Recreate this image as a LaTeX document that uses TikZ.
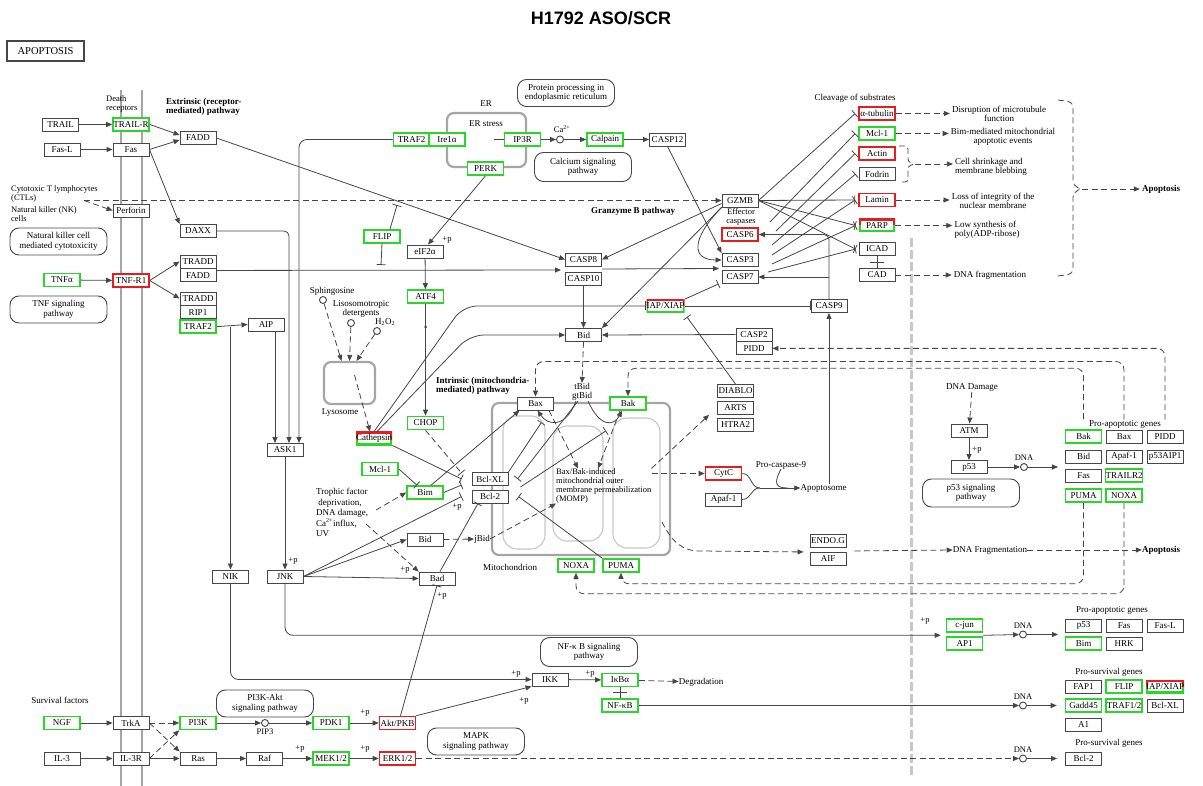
\documentclass[tikz,border=0pt]{standalone}
\usepackage{fontspec}
\setmainfont{Liberation Serif}
\newfontfamily\titlefont{Liberation Sans}
\usetikzlibrary{arrows.meta, positioning, calc}
\definecolor{kgreen}{RGB}{40,215,40}
\definecolor{kred}{RGB}{228,30,30}
\definecolor{kline}{RGB}{70,70,70}
\definecolor{kgray}{RGB}{165,165,165}
\definecolor{klight}{RGB}{200,200,200}
\begin{document}
\begin{tikzpicture}[x=1pt, y=-1pt,
  kbox/.style={draw=kline, fill=white, line width=0.9pt, minimum width=36pt, minimum height=13pt, inner sep=0pt, font=\fontsize{9}{9}\selectfont},
  gkbox/.style={kbox, draw=kgreen, line width=1.6pt},
  rkbox/.style={kbox, draw=kred, line width=1.6pt},
  rgkbox/.style={kbox, draw=none, path picture={
      \draw[kred, line width=3.2pt] (path picture bounding box.west) |- (path picture bounding box.north east) -- (path picture bounding box.east);
      \draw[kgreen, line width=3.2pt] (path picture bounding box.west) |- (path picture bounding box.south east) -- (path picture bounding box.east);}},
  pathbox/.style={draw=kline, line width=0.9pt, rounded corners=9pt, minimum width=97pt, minimum height=27pt, align=center, inner sep=1pt, font=\fontsize{9}{9.5}\selectfont},
  orgbox/.style={draw=kgray, line width=2.2pt, rounded corners=7pt},
  crista/.style={draw=klight, line width=1.1pt},
  memb/.style={draw=kgray, line width=2.5pt},
  lbl/.style={font=\fontsize{9}{9.5}\selectfont, align=center, inner sep=0pt},
  slbl/.style={font=\fontsize{8.5}{9}\selectfont, align=center, inner sep=0pt},
  blbl/.style={font=\fontsize{9}{9.5}\selectfont\bfseries, align=left, inner sep=0pt},
  circ/.style={circle, draw=kline, fill=white, line width=0.9pt, minimum size=7pt, inner sep=0pt},
  ln/.style={draw=kline, line width=0.8pt},
  ar/.style={ln, -{Triangle[length=6pt,width=5pt]}},
  inh/.style={ln, -{Bar[width=9pt]}},
  dsh/.style={dash pattern=on 6pt off 3.5pt}]
\useasboundingbox (0,0) rectangle (1203,786);

% title
\node[font=\titlefont\bfseries\fontsize{18}{20}\selectfont] (title) at (601,18) {H1792 ASO/SCR};
\node[draw=kline, line width=1.3pt, minimum width=77pt, minimum height=20pt, font=\fontsize{10.5}{11}\selectfont] (apo) at (45.5,51) {APOPTOSIS};

% organelles and membranes
\node[orgbox, minimum width=79pt, minimum height=54pt] (er) at (486.5,140) {};
\node[orgbox, minimum width=51pt, minimum height=42pt] (lyso) at (349.5,383) {};
\node[orgbox, minimum width=178pt, minimum height=152pt] (mito) at (581,479) {};
\draw[crista, rounded corners=14pt] (503,416) rectangle (545,549);
\draw[crista, rounded corners=14pt] (553,426) rectangle (603,541);
\draw[crista, rounded corners=14pt] (613,418) rectangle (660,548);
\draw[memb] (121,90) -- (121,786);
\draw[memb] (142,90) -- (142,786);
\draw[draw=klight, line width=3pt, dash pattern=on 9pt off 3pt] (911,238) -- (911,778);

% labels
\node[slbl, align=left, anchor=west] (deathr) at (106,104) {Death\\receptors};
\node[blbl, anchor=west] (extr) at (166,107) {Extrinsic (receptor-\\mediated) pathway};
\node[slbl, align=left, anchor=west] (ctl) at (11,194) {Cytotoxic T lymphocytes\\(CTLs)};
\node[slbl, align=left, anchor=west] (nk) at (11,214.5) {Natural killer (NK)\\cells};
\coordinate (ctlpt) at (84,200.5);
\node[lbl] (erl) at (486,104) {ER};
\node[lbl] (ers) at (486,124) {ER stress};
\node[blbl] (gzpath) at (633,211) {Granzyme B pathway};
\node[lbl] (cleav) at (855,98) {Cleavage of substrates};
\node[slbl] (effc) at (741,217) {Effector\\caspases};
\node[lbl] (sphl) at (332,291) {Sphingosine};
\node[lbl] (lisl) at (361,309) {Lisosomotropic\\detergents};
\node[lbl] (h2o2l) at (385,322) {H\textsubscript{2}O\textsubscript{2}};
\node[lbl] (lysol) at (340,413) {Lysosome};
\node[blbl, anchor=west] (intr) at (436,386) {Intrinsic (mitochondria-\\mediated) pathway};
\node[lbl, align=left, anchor=west, font=\fontsize{8.5}{9}\selectfont] (momp) at (556,486) {Bax/Bak-induced\\mitochondrial outer\\membrane permeabilization\\(MOMP)};
\node[lbl, align=left, anchor=north west, font=\fontsize{9}{10.5}\selectfont] (troph) at (316,488) {Trophic factor\\\ deprivation,\\DNA damage,\\Ca\textsuperscript{2+}influx,\\UV};
\coordinate (tr1) at (376,510);
\coordinate (tr2) at (366,524);
\node[lbl] (mitol) at (510,567) {Mitochondrion};
\node[lbl] (tbid) at (582,392) {tBid\\gtBid};
\node[lbl] (jbid) at (482,539) {jBid};
\node[lbl] (procasp) at (781,465) {Pro-caspase-9};
\node[lbl] (apopt) at (823.5,488) {Apoptosome};
\node[lbl] (degr) at (701,682) {Degradation};
\node[lbl] (survf) at (60,700) {Survival factors};
\node[lbl] (dnadam) at (972,388) {DNA Damage};
\node[lbl] (proap1) at (1125,424) {Pro-apoptotic genes};
\node[lbl] (proap2) at (1112,610) {Pro-apoptotic genes};
\node[lbl] (prosv1) at (1109,672) {Pro-survival genes};
\node[lbl] (prosv2) at (1109,743) {Pro-survival genes};

% pathway boxes
\node[pathbox] (nkpath) at (58.5,241.5) {Natural killer cell\\mediated cytotoxicity};
\node[pathbox] (tnfpath) at (58.5,309.5) {TNF signaling\\pathway};
\node[pathbox] (protpath) at (566,93) {Protein processing in\\endoplasmic reticulum};
\node[pathbox, minimum height=29pt] (calpath) at (583,167) {Calcium signaling\\pathway};
\node[pathbox, minimum height=28pt] (p53path) at (971,493) {p53 signaling\\pathway};
\node[pathbox, minimum height=29pt] (nfkbpath) at (589,652) {NF-κ B signaling\\pathway};
\node[pathbox] (pi3kpath) at (265,703.5) {PI3K-Akt\\signaling pathway};
\node[pathbox] (mapkpath) at (476,741.5) {MAPK\\signaling pathway};

% receptors
\node[kbox] (trail) at (60.5,124.5) {TRAIL};
\node[gkbox] (trailr) at (131,124.5) {TRAIL-R};
\node[kbox] (fadd) at (198,138) {FADD};
\node[kbox] (fasl) at (62,149.5) {Fas-L};
\node[kbox] (fas) at (131,149.5) {Fas};
\node[kbox] (perforin) at (131,210.5) {Perforin};
\node[kbox] (daxx) at (198,231) {DAXX};
\node[kbox] (tradd1) at (198,261.5) {TRADD};
\node[kbox, below=0pt of tradd1] (fadd1) {FADD};
\node[gkbox] (tnfa) at (62,280) {TNFα};
\node[rkbox] (tnfr1) at (131,280.5) {TNF-R1};
\node[kbox] (tradd2) at (198,298.5) {TRADD};
\node[kbox, below=0pt of tradd2] (rip1) {RIP1};
\node[gkbox, below=0pt of rip1] (traf2b) {TRAF2};
\node[kbox] (aip) at (266,324.5) {AIP};
\node[kbox] (ask1) at (285,450) {ASK1};
\node[kbox] (nik) at (230.5,576.5) {NIK};
\node[kbox] (jnk) at (285,576.5) {JNK};

% survival signalling
\node[gkbox] (ngf) at (62,723) {NGF};
\node[kbox] (trka) at (131,723) {TrkA};
\node[gkbox] (pi3k) at (198,723) {PI3K};
\node[circ] (pip3) at (265,723) {};
\node[slbl, below=2pt of pip3] (pip3l) {PIP3};
\node[gkbox] (pdk1) at (331,723) {PDK1};
\node[rkbox] (akt) at (397.5,723) {Akt/PKB};
\node[kbox] (il3) at (62,758.5) {IL-3};
\node[kbox] (il3r) at (131,758.5) {IL-3R};
\node[kbox] (ras) at (198,758.5) {Ras};
\node[kbox] (raf) at (264.5,758.5) {Raf};
\node[gkbox] (mek) at (331,758.5) {MEK1/2};
\node[rkbox] (erk) at (397.5,758.5) {ERK1/2};

% ER
\node[gkbox] (traf2er) at (411.5,139.5) {TRAF2};
\node[gkbox] (ire1) at (447,139.5) {Ire1α};
\node[gkbox] (ip3r) at (522.5,139.5) {IP3R};
\node[circ] (ca) at (560,139.5) {};
\node[slbl] (cal) at (562,129) {Ca\textsuperscript{2+}};
\node[gkbox] (calpain) at (605,139.5) {Calpain};
\node[kbox] (casp12) at (667.5,139.5) {CASP12};
\node[gkbox] (perk) at (485.5,168.5) {PERK};
\node[kbox] (eif2a) at (425,251.5) {eIF2α};
\node[gkbox] (flip) at (382,236.5) {FLIP};
\coordinate (flipt) at (397,205);
\coordinate (flipb) at (381,265);
\node[gkbox] (atf4) at (425.5,296.5) {ATF4};
\node[circle, fill=kline, inner sep=0pt, minimum size=3pt] (dot) at (425.5,327) {};
\node[gkbox] (chop) at (425.5,423) {CHOP};

% lysosome
\node[circ] (sph) at (323,300) {};
\node[circ] (lis) at (351,323) {};
\node[circ] (h2o2) at (377,331) {};
\node[rgkbox] (cathepsin) at (374,438.5) {Cathepsin};

% mitochondrial pathway
\node[gkbox] (mcl1) at (380,469) {Mcl-1};
\node[gkbox] (bim) at (425,492.5) {Bim};
\node[kbox] (bclxl) at (490,479) {Bcl-XL};
\node[kbox] (bcl2) at (490,496.5) {Bcl-2};
\node[kbox] (bidl) at (425,539.5) {Bid};
\node[kbox] (bad) at (437,578.5) {Bad};
\node[kbox] (casp8) at (583.5,259.5) {CASP8};
\node[kbox] (casp10) at (583.5,278.5) {CASP10};
\coordinate (c810) at (561,270);
\coordinate (c810r) at (602,269);
\coordinate (c37) at (719,268.5);
\node[kbox] (bid) at (583.5,335) {Bid};
\node[kbox] (bax) at (535.5,403.5) {Bax};
\node[gkbox] (bak) at (628,403.5) {Bak};
\node[gkbox] (noxam) at (576,565.5) {NOXA};
\node[gkbox] (pumam) at (621,565.5) {PUMA};
\coordinate (mompout) at (662,522);

% NF-kB
\node[kbox] (ikk) at (550,679.5) {IKK};
\node[gkbox] (ikba) at (620,680) {IκBα};
\node[gkbox] (nfkb) at (620,705.5) {NF-κB};

% caspases
\node[kbox] (gzmb) at (740,200.5) {GZMB};
\node[rkbox] (casp6) at (740,234.5) {CASP6};
\node[kbox] (casp3) at (740,260) {CASP3};
\node[kbox] (casp7) at (740,277) {CASP7};
\node[rgkbox] (iap) at (665.5,306) {IAP/XIAP};
\node[kbox] (casp9) at (829,306) {CASP9};
\node[kbox] (casp2) at (754,334.5) {CASP2};
\node[kbox, below=0pt of casp2] (pidd) {PIDD};
\node[kbox] (diablo) at (735.5,391) {DIABLO};
\node[kbox, below=3pt of diablo] (arts) {ARTS};
\node[kbox, below=3pt of arts] (htra2) {HTRA2};
\node[rkbox] (cytc) at (723.5,473.5) {CytC};
\node[kbox] (apaf) at (723.5,499.5) {Apaf-1};
\coordinate (apj) at (760,488);
\coordinate (apj2) at (788,488);
\node[kbox] (endog) at (828,541) {ENDO.G};
\node[kbox, below=4pt of endog] (aif) {AIF};

% substrates
\node[rkbox] (atub) at (877,113.5) {α-tubulin};
\node[gkbox] (mcls) at (877,133.5) {Mcl-1};
\node[rkbox] (actin) at (877,153.5) {Actin};
\node[kbox] (fodrin) at (877,174) {Fodrin};
\node[rkbox] (lamin) at (877,200) {Lamin};
\node[rgkbox] (parp) at (877,225.5) {PARP};
\node[kbox] (icad) at (877,249) {ICAD};
\node[kbox] (cad) at (877,275) {CAD};
\coordinate (ef1) at (770,222);
\coordinate (ef2) at (776,231);
\coordinate (ef3) at (772,245);
\coordinate (ef4) at (772,255);
\coordinate (ef5) at (772,264);
\coordinate (ef6) at (768,272);
\node[lbl, font=\fontsize{9}{9}\selectfont] (eff1) at (999,114) {Disruption of microtubule\\function};
\node[lbl, font=\fontsize{9}{9}\selectfont] (eff2) at (1003,137) {Bim-mediated mitochondrial\\apoptotic events};
\node[lbl, font=\fontsize{9}{9}\selectfont, align=left] (eff3) at (991,167) {Cell shrinkage and\\membrane blebbing};
\node[lbl, font=\fontsize{9}{9}\selectfont] (eff4) at (993,201) {Loss of integrity of the\\nuclear membrane};
\node[lbl, font=\fontsize{9}{9}\selectfont, align=left] (eff5) at (987,230) {Low synthesis of\\poly(ADP-ribose)};
\node[lbl] (dnaf1) at (990,275) {DNA fragmentation};
\coordinate (brtip) at (915,164);
\coordinate (bbtip) at (1082,189);
\node[blbl] (apo1) at (1161,189) {Apoptosis};
\node[lbl] (dnaf2) at (990,550) {DNA Fragmentation};
\node[blbl] (apo2) at (1161,550) {Apoptosis};

% nucleus
\node[kbox] (atm) at (969,430.5) {ATM};
\node[kbox] (p53) at (969,467) {p53};
\node[circ] (dna1) at (1024,467) {};
\node[slbl, above=2pt of dna1] (dnal1) {DNA};
\coordinate (gin1) at (1058,467);
\node[gkbox] (bakg) at (1083.5,436.5) {Bak};
\node[kbox] (baxg) at (1124,436.5) {Bax};
\node[kbox] (piddg) at (1165,436.5) {PIDD};
\node[kbox] (bidg) at (1083.5,456.5) {Bid};
\node[kbox] (apafg) at (1124,456.5) {Apaf-1};
\node[kbox] (p53aipg) at (1165,456.5) {p53AIP1};
\node[kbox] (fasg) at (1083.5,475.5) {Fas};
\node[gkbox] (trailr2g) at (1124,475.5) {TRAILR2};
\node[gkbox] (pumag) at (1083.5,495.5) {PUMA};
\node[gkbox] (noxag) at (1124,495.5) {NOXA};
\node[gkbox] (cjun) at (964.5,625.5) {c-jun};
\node[gkbox] (ap1) at (964.5,643.5) {AP1};
\node[circ] (dna2) at (1023,634.5) {};
\node[slbl, above=2pt of dna2] (dnal2) {DNA};
\coordinate (gin2) at (1058,634.5);
\node[kbox] (p53g) at (1083.5,625.5) {p53};
\node[kbox] (fasg2) at (1124,625.5) {Fas};
\node[kbox] (faslg) at (1165,625.5) {Fas-L};
\node[gkbox] (bimg) at (1083.5,643.5) {Bim};
\node[kbox] (hrkg) at (1124,643.5) {HRK};
\node[circ] (dna3) at (1023,705.5) {};
\node[slbl, above=2pt of dna3] (dnal3) {DNA};
\node[kbox] (fap1g) at (1083.5,686.5) {FAP1};
\node[gkbox] (flipg) at (1124,686.5) {FLIP};
\node[rgkbox] (iapg) at (1165,686.5) {IAP/XIAP};
\node[gkbox] (gaddg) at (1083.5,705.5) {Gadd45};
\node[gkbox] (trafg) at (1124,705.5) {TRAF1/2};
\node[kbox] (bclxlg) at (1165,705.5) {Bcl-XL};
\node[kbox] (a1g) at (1083.5,725) {A1};
\node[circ] (dna4) at (1023,758.5) {};
\node[slbl, above=2pt of dna4] (dnal4) {DNA};
\node[kbox] (bcl2g) at (1083.5,758.5) {Bcl-2};

% +p labels
\foreach \x/\y in {447/240, 293/561, 405/570, 442/596, 457/507, 516/674, 524/701, 590/674, 365/713, 300/749, 365/749, 977/450, 925/621}
  \node[slbl] at (\x,\y) {+p};

% extrinsic pathway
\draw[ar] (trail) -- (trailr);
\draw[ar] (fasl) -- (fas);
\draw[ar] (trailr.east) -- ([yshift=3pt]fadd.west);
\draw[ar] (fas.east) -- ([yshift=-2pt]fadd.west);
\draw[ar] (fas.east) -- (daxx.north west);
\draw[ar, dsh] (ctlpt) -- (perforin.west);
\draw[ar, dsh] (ctlpt) -- (gzmb.west);
\draw[ar] (fadd.east) -- (casp8.west);
\draw[ar] ([yshift=-2pt]fadd1.north east) -- (c810);
\draw[ar] (c810r) -- (c37);
\draw[ar] (tnfa) -- (tnfr1);
\draw[ar] (tnfr1.east) -- (tradd1.west);
\draw[ar] (tnfr1.east) -- (tradd2.west);
\draw[ar] (traf2b.east) -- (aip.west);
\draw[ar] (traf2b.east -| nik.north) -- (nik.north);
\draw[ar, rounded corners=5pt] (daxx.east) -| ([xshift=4pt]ask1.north);
\draw[ar] ([xshift=9pt]aip.south) -- ([xshift=9pt]aip.south |- ask1.north);
\draw[ar, rounded corners=8pt] (traf2er.west) -| ([xshift=14pt]ask1.north);
\draw[ar] (ask1) -- (jnk);

% ER stress
\draw[ln] ([xshift=-10pt]ip3r.west) -- (ip3r.west);
\draw[ar] (ip3r) -- (ca);
\draw[ar] (ca) -- (calpain);
\draw[ar] (calpain) -- (casp12);
\draw[ar] (casp12.south) -- (casp3.north west);
\draw[ar] (perk.south) -- ([xshift=3pt]eif2a.north);
\draw[ar] (eif2a) -- (atf4);
\draw[ar] (atf4) -- (chop);
\draw[inh] ([xshift=8pt]flip.north) -- (flipt);
\draw[inh] (flip.south) -- (flipb);
\draw[inh, dsh] (chop.south) -- ([xshift=-10pt,yshift=6pt]bclxl.west);

% lysosome
\draw[ar, dsh] (sph) -- ([xshift=-8pt]lyso.north);
\draw[ar, dsh] (lis) -- (lyso.north);
\draw[ar, dsh] (h2o2) -- ([xshift=7pt]lyso.north);
\draw[ar, dsh] ([xshift=5pt,yshift=8pt]lyso.center) -- ([xshift=-4pt]cathepsin.north);
\draw[ar, rounded corners=14pt] ([xshift=3pt]cathepsin.north) -- (470,335) -- (bid.west);
\draw[inh, rounded corners=14pt] (cathepsin.north) -- (463,306) -- (iap.west);
\draw[inh] (cathepsin.south east) -- ([xshift=-10pt]bclxl.west);

% Bcl-2 family
\draw[inh] (mcl1.east) -- ([xshift=-8pt]bim.north);
\draw[ar] ([xshift=6pt]bim.north) -- ([xshift=-16pt]bax.south);
\draw[inh] (bim.east) -- ([xshift=-10pt,yshift=-6pt]bclxl.west);
\draw[ar, dsh] (tr1) -- (bim.west);
\draw[ar, dsh] (tr2) -- (bad.north west);
\draw[ar] (jnk.east) -- (bidl.west);
\draw[ar] (jnk.east) -- (bad.west);
\draw[inh] (jnk.east) -- ([xshift=-10pt]bcl2.west);
\draw[ar, dsh] (bidl.east) -- (jbid.west);
\draw[inh] ([xshift=3pt]bad.north) -- ([xshift=-12pt]bcl2.south);
\draw[inh] ([xshift=3pt]akt.north) -- (bad.south);
\draw[ar] (akt.north east) -- (ikk.south west);
\draw[inh] (pumam.north west) -- ([xshift=10pt]bcl2.east);
\draw[inh] ([xshift=-4pt]tbid.south) -- ([xshift=9pt]bclxl.east);
\draw[inh] (bclxl.north east) -- ([xshift=6pt,yshift=-12pt]bax.south);
\draw[inh] ([xshift=12pt,yshift=-8pt]bclxl.east) -- ([xshift=-22pt,yshift=-20pt]bak.south);
\draw[ar, dsh] (bid.south) -- (tbid.north);
\draw[ar] ([xshift=-6pt]tbid.south) .. controls (566,428) and (548,426) .. ([xshift=2pt]bax.south);
\draw[ar] ([xshift=6pt]tbid.south) .. controls (600,428) and (614,426) .. ([xshift=-6pt]bak.south);
\draw[ar, dsh] ([xshift=-5pt]bax.south east) -- ([xshift=22pt]momp.north west);
\draw[ar, dsh] ([xshift=-8pt]bak.south) -- ([xshift=42pt]momp.north west);
\draw[ar, dsh] (jbid.east) -- (momp.south west);
\draw[ar, dsh] (momp.east |- cytc.west) -- (cytc.west);
\draw[ar, dsh] (momp.north east) -- ([xshift=-8pt]arts.south west);
\draw[ar, dsh] (mompout) .. controls (672,542) and (682,551) .. (700,551) -- ([xshift=-6pt,yshift=-4pt]endog.south west);
\draw[ar, dsh] ([xshift=8pt,yshift=-3pt]endog.south east) -- (dnaf2.west);
\draw[ar, dsh] (dnaf2.east) -- (apo2.west);

% caspase cascade
\draw[ar] (casp10) -- (bid);
\draw[ar] ([yshift=-3pt]gzmb.west) -- (casp8.east);
\draw[ar] (gzmb.south west) -- (bid.north east);
\draw[ar] (gzmb.south west) .. controls (690,240) and (692,260) .. (casp3.west);
\draw[ar] (casp2.west) -- (bid.east);
\draw[inh] (iap.east) -- (casp9.west);
\draw[inh] (iap.north east) -- ([xshift=-3pt]casp7.south west);
\draw[inh] (diablo.north) -- ([xshift=2pt,yshift=-4pt]iap.south east);
\draw[ln] (cytc.east) .. controls (752,473.5) and (750,488) .. (apj);
\draw[ln] (apaf.east) .. controls (752,499.5) and (750,488) .. (apj);
\draw[ln] (procasp.south) .. controls (773,484) and (776,488) .. (apj2);
\draw[ar] (apj) -- (apopt.west);
\draw[ar] (casp9.south |- apopt.north) -- (casp9.south);
\draw[ar, rounded corners=5pt] (casp9.north) |- (casp6.east);
\draw[ar] (casp9.north |- casp7.east) -- (casp7.east);

% substrates
\foreach \s in {atub, lamin, parp, icad}
  \draw[inh] (gzmb.east) -- ([xshift=-3pt]\s.west);
\foreach \p/\s in {ef1/mcls, ef2/actin, ef3/fodrin, ef4/lamin, ef5/parp, ef6/icad}
  \draw[inh] (\p) -- ([xshift=-3pt]\s.west);
\draw[ln] (icad.south) -- (cad.north);
\draw[ln] ([xshift=-7pt]$(icad.south)!0.5!(cad.north)$) -- ([xshift=7pt]$(icad.south)!0.5!(cad.north)$);
\draw[ar, dsh, shorten >=2pt] (atub.east) -- (atub.east -| eff1.west);
\draw[ar, dsh, shorten >=2pt] (mcls.east) -- (mcls.east -| eff2.west);
\draw[ln, dsh, rounded corners=3pt] (899,146) -- (908,146) -- (908,162) -- (brtip) -- (908,166) -- (908,182) -- (899,182);
\draw[ar, dsh, shorten >=2pt] (brtip) -- (brtip -| eff3.west);
\draw[ar, dsh, shorten >=2pt] (lamin.east) -- (lamin.east -| eff4.west);
\draw[ar, dsh, shorten >=2pt] (parp.east) -- (parp.east -| eff5.west);
\draw[ar, dsh, shorten >=2pt] (cad.east) -- (cad.east -| dnaf1.west);
\draw[ln, dsh, rounded corners=5pt] (1058,100) -- (1073,102) -- (1073,186) -- (bbtip) -- (1073,192) -- (1073,274) -- (1058,276);
\draw[ar, dsh, shorten >=2pt] (bbtip) -- (apo1.west);

% p53 and target genes
\draw[ar, dsh] (dnadam) -- (atm);
\draw[ar] (atm) -- (p53);
\draw[ar] (p53) -- (dna1);
\draw[ar] (dna1) -- (gin1);
\draw[ar, dsh, rounded corners=8pt] ([yshift=10pt]piddg.north) |- (pidd.east);
\draw[ar, dsh, rounded corners=8pt] ([yshift=10pt]baxg.north) |- ([yshift=35pt]bax.north) -- (bax.north);
\draw[ar, dsh, rounded corners=8pt] ([yshift=10pt]bakg.north) |- ([yshift=28pt]bak.north) -- (bak.north);
\draw[ar, dsh, rounded corners=8pt] (pumag.south) |- ([yshift=-11pt]pumam.south) -- (pumam.south);
\draw[ar, dsh, rounded corners=8pt] (noxag.south) |- ([yshift=-21pt]noxam.south) -- (noxam.south);

% JNK, NF-kB and survival signalling
\draw[ar, rounded corners=8pt] (jnk.south) |- ([xshift=-5pt,yshift=-2.5pt]cjun.south west);
\draw[ar] ([yshift=-2.5pt]cjun.south east) -- (dna2);
\draw[ar] (dna2) -- (gin2);
\draw[ar, rounded corners=8pt] (nik.south) |- (ikk.west);
\draw[ar] (ikk) -- (ikba);
\draw[ar, dsh] (ikba) -- (degr);
\draw[ln] (ikba.south) -- (nfkb.north);
\draw[ln] ([xshift=-7pt]$(ikba.south)!0.5!(nfkb.north)$) -- ([xshift=7pt]$(ikba.south)!0.5!(nfkb.north)$);
\draw[ar] (nfkb.east) -- (dna3);
\draw[ar] (dna3) -- ([xshift=-8pt]gaddg.west);
\draw[ar] (ngf) -- (trka);
\draw[ar] (il3) -- (il3r);
\draw[ar, dsh] (trka) -- (pi3k);
\draw[ar, dsh] (trka.east) -- (ras.north west);
\draw[ar, dsh] (il3r.east) -- (pi3k.south west);
\draw[ar] (il3r) -- (ras);
\draw[ar] (pi3k) -- (pip3);
\draw[ar] (pip3) -- (pdk1);
\draw[ar] (pdk1) -- (akt);
\draw[ar] (ras) -- (raf);
\draw[ar] (raf) -- (mek);
\draw[ar] (mek) -- (erk);
\draw[ar, dsh] (erk.east) -- (dna4);
\draw[ar] (dna4) -- ([xshift=-8pt]bcl2g.west);
\end{tikzpicture}
\end{document}
